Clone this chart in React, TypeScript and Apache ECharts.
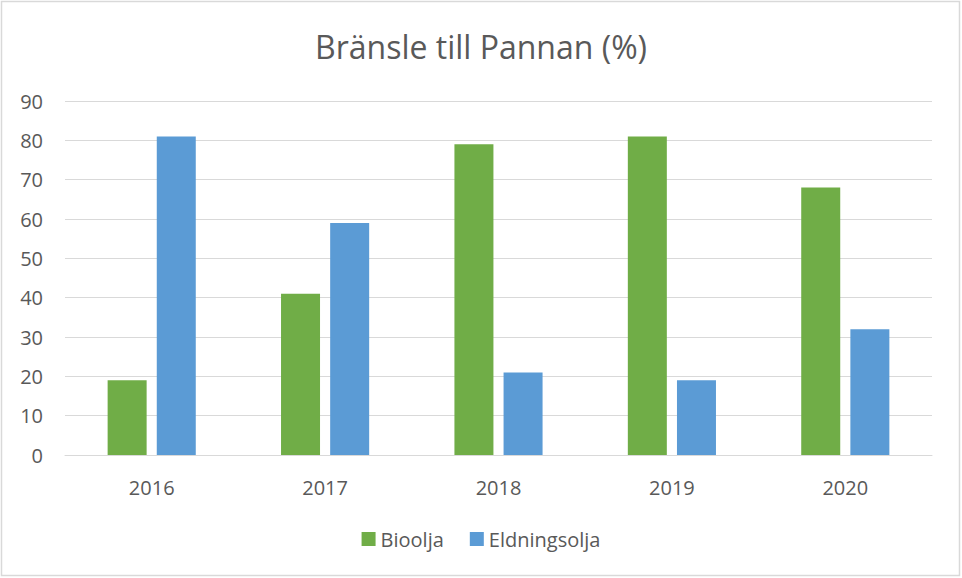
import React, { useEffect, useRef } from "react";
import * as echarts from "echarts";

const categories = ["2016", "2017", "2018", "2019", "2020"];
const bioolja = [19, 41, 79, 81, 68];
const eldningsolja = [81, 59, 21, 19, 32];
const seriesNames = ["Bioolja", "Eldningsolja"];
const titleText = "Bränsle till Pannan (%)";

export default function App() {
  const ref = useRef<HTMLDivElement>(null);
  useEffect(() => {
    document.body.style.margin = "0";
    const chart = echarts.init(ref.current!, null, { renderer: "svg" });
    const font = "'Open Sans', sans-serif";
    chart.setOption({
      animation: false,
      backgroundColor: "#ffffff",
      textStyle: { fontFamily: font },
      title: {
        text: titleText,
        left: "center",
        top: 25,
        textStyle: { fontFamily: font, fontSize: 32, fontWeight: "normal", color: "#595959" },
      },
      graphic: [
        {
          type: "rect",
          shape: { x: 1.5, y: 1.5, width: 958, height: 574 },
          style: { fill: "none", stroke: "#d9d9d9", lineWidth: 1.5 },
          silent: true,
        },
      ],
      legend: {
        data: seriesNames,
        bottom: 24,
        left: "center",
        itemWidth: 14,
        itemHeight: 14,
        itemGap: 26,
        icon: "rect",
        textStyle: { fontFamily: font, fontSize: 20, color: "#595959" },
      },
      grid: { left: 65, right: 30, top: 101, bottom: 123, containLabel: false },
      xAxis: {
        type: "category",
        data: categories,
        axisLine: { lineStyle: { color: "#d9d9d9", width: 1 } },
        axisTick: { show: false },
        axisLabel: { color: "#595959", fontSize: 20, margin: 22, fontFamily: font },
      },
      yAxis: {
        type: "value",
        min: 0,
        max: 90,
        interval: 10,
        axisLine: { show: false },
        axisTick: { show: false },
        axisLabel: { color: "#595959", fontSize: 20, margin: 22, fontFamily: font },
        splitLine: { lineStyle: { color: "#d9d9d9", width: 1 } },
      },
      series: [
        {
          name: seriesNames[0],
          type: "bar",
          data: bioolja,
          barWidth: 39,
          barGap: "26%",
          itemStyle: { color: "#70ad47" },
        },
        {
          name: seriesNames[1],
          type: "bar",
          data: eldningsolja,
          barWidth: 39,
          barGap: "26%",
          itemStyle: { color: "#5b9bd5" },
        },
      ],
    });
    return () => chart.dispose();
  }, []);
  return <div ref={ref} style={{ width: 962, height: 578 }} />;
}
